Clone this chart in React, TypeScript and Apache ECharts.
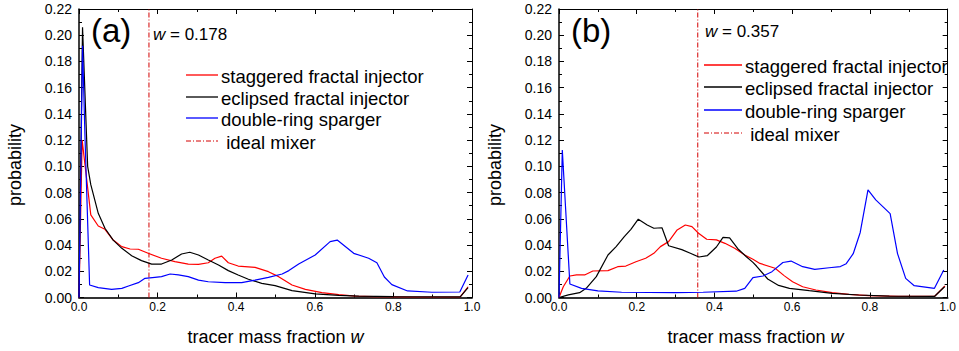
import React, { useEffect, useRef } from "react";
import * as echarts from "echarts";

// ---------- data (w, probability) ----------
const IDEAL_A = 0.178;
const IDEAL_B = 0.357;

const A_STAGGERED: [number, number][] = [
  [0, 0], [0.008, 0.12], [0.03, 0.063], [0.049, 0.0545], [0.066, 0.052], [0.087, 0.0438],
  [0.109, 0.0388], [0.13, 0.037], [0.151, 0.0368], [0.176, 0.0337], [0.21, 0.0299],
  [0.244, 0.0273], [0.278, 0.0255], [0.304, 0.0252], [0.329, 0.0265], [0.346, 0.0299],
  [0.363, 0.0316], [0.38, 0.0265], [0.405, 0.024], [0.448, 0.023], [0.482, 0.0197],
  [0.508, 0.0159], [0.542, 0.0095], [0.576, 0.0062], [0.618, 0.0037], [0.661, 0.0022],
  [0.703, 0.0011], [0.75, 0.0006], [0.85, 0.0004], [0.97, 0.0004], [0.99, 0.0082],
];
const A_ECLIPSED: [number, number][] = [
  [0, 0], [0.009, 0.206], [0.022, 0.1], [0.03, 0.086], [0.049, 0.0642], [0.066, 0.0528],
  [0.087, 0.0438], [0.109, 0.0375], [0.134, 0.0319], [0.159, 0.0281], [0.185, 0.0255],
  [0.21, 0.0255], [0.236, 0.0286], [0.261, 0.0332], [0.282, 0.0345], [0.304, 0.0324],
  [0.329, 0.0286], [0.355, 0.0248], [0.38, 0.0205], [0.405, 0.0172], [0.431, 0.0139],
  [0.465, 0.0108], [0.499, 0.009], [0.542, 0.0052], [0.601, 0.0027], [0.661, 0.0016],
  [0.712, 0.001], [0.8, 0.0006], [0.97, 0.0005], [0.99, 0.0075],
];
const A_DOUBLE: [number, number][] = [
  [0, 0], [0.009, 0.192], [0.015, 0.125], [0.027, 0.0095], [0.049, 0.0075], [0.083, 0.0062],
  [0.109, 0.007], [0.126, 0.0088], [0.151, 0.0113], [0.168, 0.0146], [0.193, 0.0154],
  [0.21, 0.0159], [0.232, 0.0179], [0.253, 0.0172], [0.278, 0.0159], [0.304, 0.0133],
  [0.329, 0.012], [0.372, 0.0113], [0.414, 0.0113], [0.448, 0.0133], [0.482, 0.0154],
  [0.517, 0.0179], [0.534, 0.0205], [0.559, 0.0255], [0.601, 0.0324], [0.639, 0.0426],
  [0.657, 0.0438], [0.699, 0.0337], [0.737, 0.0299], [0.758, 0.0265], [0.777, 0.0156],
  [0.796, 0.0098], [0.836, 0.005], [0.898, 0.004], [0.969, 0.0042], [0.99, 0.0172],
];

const B_STAGGERED: [number, number][] = [
  [0, 0], [0.011, 0.0082], [0.028, 0.0164], [0.045, 0.0172], [0.066, 0.0172], [0.087, 0.0202],
  [0.126, 0.0205], [0.151, 0.0235], [0.172, 0.024], [0.198, 0.0273], [0.223, 0.0299],
  [0.244, 0.0337], [0.261, 0.0388], [0.282, 0.0426], [0.304, 0.0515], [0.325, 0.0553],
  [0.342, 0.054], [0.359, 0.049], [0.38, 0.0444], [0.405, 0.0439], [0.427, 0.0413],
  [0.452, 0.0375], [0.478, 0.0324], [0.499, 0.0292], [0.517, 0.026], [0.556, 0.0223],
  [0.58, 0.0165], [0.601, 0.012], [0.627, 0.0082], [0.661, 0.0057], [0.703, 0.0037],
  [0.746, 0.0024], [0.797, 0.0014], [0.873, 0.0008], [0.966, 0.0008], [0.993, 0.0088],
];
const B_ECLIPSED: [number, number][] = [
  [0, 0], [0.024, 0.002], [0.053, 0.0037], [0.07, 0.007], [0.096, 0.0159], [0.126, 0.0324],
  [0.147, 0.0388], [0.168, 0.0464], [0.185, 0.052], [0.204, 0.0597], [0.227, 0.0553],
  [0.244, 0.0528], [0.265, 0.0532], [0.282, 0.0395], [0.316, 0.0365], [0.338, 0.0337],
  [0.36, 0.0309], [0.382, 0.032], [0.405, 0.0385], [0.422, 0.0459], [0.439, 0.0454],
  [0.46, 0.0372], [0.482, 0.0311], [0.499, 0.0268], [0.508, 0.024], [0.537, 0.0141],
  [0.565, 0.0092], [0.593, 0.007], [0.644, 0.0052], [0.703, 0.0032], [0.771, 0.0019],
  [0.85, 0.0011], [0.966, 0.0008], [0.992, 0.0082],
];
const B_DOUBLE: [number, number][] = [
  [0, 0], [0.0085, 0.1125], [0.028, 0.0103], [0.058, 0.007], [0.1, 0.005], [0.161, 0.004],
  [0.3, 0.0037], [0.371, 0.004], [0.456, 0.0048], [0.478, 0.007], [0.499, 0.0152],
  [0.525, 0.0164], [0.548, 0.0197], [0.576, 0.0267], [0.597, 0.0278], [0.627, 0.0235],
  [0.658, 0.0215], [0.695, 0.0227], [0.724, 0.0236], [0.739, 0.0258], [0.757, 0.0334],
  [0.775, 0.0496], [0.795, 0.082], [0.815, 0.0744], [0.852, 0.064], [0.871, 0.0335],
  [0.892, 0.0146], [0.914, 0.009], [0.966, 0.007], [0.99, 0.021],
];

const SERIES_NAMES = [
  "staggered fractal injector",
  "eclipsed fractal injector",
  "double-ring sparger",
  " ideal mixer",
];
const COLORS = ["#ff0000", "#000000", "#0000ff", "#d40000"];
const X_MIN = 0, X_MAX = 1, X_STEP = 0.2;
const Y_MIN = 0, Y_MAX = 0.22, Y_STEP = 0.02;
const PANEL_LABELS = ["(a)", "(b)"];

const FONT = "Liberation Sans, Arial, Helvetica, sans-serif";
const DASHDOT = [5, 2, 1, 2];

export default function App() {
  const ref = useRef<HTMLDivElement>(null);

  useEffect(() => {
    if (!ref.current) return;
    const chart = echarts.init(ref.current, null, { renderer: "svg" });

    const grids = [
      { left: 79, right: 487, top: 9, bottom: 53.5 },
      { left: 559, right: 7, top: 9, bottom: 53.5 },
    ];

    const xAxis: any[] = [];
    const yAxis: any[] = [];
    grids.forEach((_, gi) => {
      ["bottom", "top"].forEach((pos) => {
        const bottom = pos === "bottom";
        xAxis.push({
          gridIndex: gi, type: "value", position: pos,
          min: X_MIN, max: X_MAX, interval: X_STEP,
          axisLine: { show: true, onZero: false, lineStyle: { color: bottom ? "#333" : "#000", width: bottom ? 1.8 : 1 } },
          axisTick: { show: true, inside: true, length: 5, lineStyle: { color: "#000", width: 1 } },
          minorTick: { show: true, splitNumber: 2, length: 3, lineStyle: { color: "#000", width: 1 } },
          axisLabel: {
            show: bottom, fontSize: 12, color: "#000", fontFamily: FONT, margin: 3,
            formatter: (v: number) => v.toFixed(1),
          },
          splitLine: { show: false },
        });
      });
      ["left", "right"].forEach((pos) => {
        const left = pos === "left";
        yAxis.push({
          gridIndex: gi, type: "value", position: pos,
          min: Y_MIN, max: Y_MAX, interval: Y_STEP,
          axisLine: { show: true, onZero: false, lineStyle: { color: "#000", width: left ? 1.5 : 1 } },
          axisTick: { show: true, inside: true, length: 5, lineStyle: { color: "#000", width: 1 } },
          minorTick: { show: true, splitNumber: 2, length: 3, lineStyle: { color: "#000", width: 1 } },
          axisLabel: {
            show: left, fontSize: 14, color: "#000", fontFamily: FONT, margin: 7,
            formatter: (v: number) => v.toFixed(2),
          },
          splitLine: { show: false },
        });
      });
    });

    const panelData = [
      [A_STAGGERED, A_ECLIPSED, A_DOUBLE, IDEAL_A],
      [B_STAGGERED, B_ECLIPSED, B_DOUBLE, IDEAL_B],
    ] as const;

    const series: any[] = [];
    panelData.forEach((pd, gi) => {
      for (let k = 0; k < 3; k++) {
        series.push({
          type: "line", name: SERIES_NAMES[k],
          xAxisIndex: gi * 2, yAxisIndex: gi * 2,
          data: pd[k] as [number, number][],
          showSymbol: false, symbol: "none",
          lineStyle: { color: COLORS[k], width: 1.2 },
          z: 3 + k,
        });
      }
      const ideal = pd[3] as number;
      series.push({
        type: "line", name: SERIES_NAMES[3],
        xAxisIndex: gi * 2, yAxisIndex: gi * 2,
        data: [[ideal, Y_MIN], [ideal, Y_MAX]],
        showSymbol: false, symbol: "none",
        lineStyle: { color: COLORS[3], width: 1, type: DASHDOT },
        z: 2,
      });
    });

    const graphic: any[] = [];
    const txt = (x: number, y: number, text: string, fontSize: number, extra: any = {}) => ({
      type: "text", x, y, silent: true,
      style: {
        text, fontSize, fontFamily: FONT, fill: "#000",
        align: "left", verticalAlign: "middle", ...extra,
      },
    });

    // axis titles & panel labels
    const plotCenters = [275.5, 755.5];
    const yTitleX = [15, 495];
    const idealVals = [IDEAL_A, IDEAL_B];
    const wLabelPos = [[153, 34], [705, 31]];
    const panelLabelPos = [[91, 30], [571, 30]];
    plotCenters.forEach((cx, gi) => {
      graphic.push(txt(cx, 337, "{n|tracer mass fraction }{i|w}", 18, {
        align: "center",
        rich: {
          n: { fontSize: 18, fontFamily: FONT, fill: "#000" },
          i: { fontSize: 18, fontFamily: FONT, fontStyle: "italic", fill: "#000" },
        },
      }));
      graphic.push({
        type: "text", x: yTitleX[gi], y: 165, rotation: Math.PI / 2, silent: true,
        style: { text: "probability", fontSize: 18, fontFamily: FONT, fill: "#000", align: "center", verticalAlign: "middle" },
      });
      graphic.push(txt(panelLabelPos[gi][0], panelLabelPos[gi][1], PANEL_LABELS[gi], 33));
      graphic.push(txt(wLabelPos[gi][0], wLabelPos[gi][1], "{i|w} = " + idealVals[gi].toFixed(3), 17, {
        rich: {
          i: { fontSize: 17, fontFamily: FONT, fontStyle: "italic", fill: "#000" },
        },
      }));
    });

    // legends
    const legends = [
      { x1: 186, x2: 218, tx: 221, rows: [75, 97, 118, 141], fs: 18.5 },
      { x1: 704, x2: 742, tx: 745, rows: [65, 87, 110, 133], fs: 18.5 },
    ];
    legends.forEach((lg) => {
      lg.rows.forEach((ry, k) => {
        graphic.push({
          type: "line", silent: true,
          shape: { x1: lg.x1, y1: ry, x2: lg.x2, y2: ry },
          style: { stroke: COLORS[k], lineWidth: k === 3 ? 1 : 1.3, lineDash: k === 3 ? DASHDOT : null },
        });
        graphic.push(txt(lg.tx, ry + 1, SERIES_NAMES[k], lg.fs));
      });
    });

    chart.setOption({
      animation: false,
      backgroundColor: "#fff",
      grid: grids,
      xAxis, yAxis, series, graphic,
    });

    return () => chart.dispose();
  }, []);

  return (
    <div
      ref={ref}
      style={{ position: "absolute", left: 0, top: 0, width: 959, height: 351 }}
    />
  );
}
